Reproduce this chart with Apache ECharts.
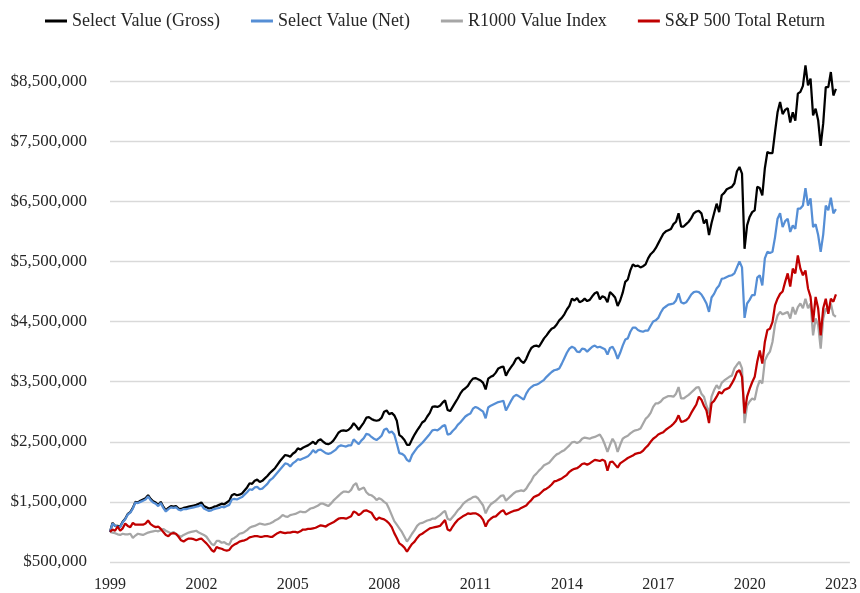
<!DOCTYPE html>
<html>
<head>
<meta charset="utf-8">
<title>Select Value growth of $1,000,000</title>
<script src="https://cdn.jsdelivr.net/npm/echarts@6/dist/echarts.min.js"></script>
<style>
html, body { margin: 0; padding: 0; background: #fff; }
#main { width: 860px; height: 593px; }
</style>
</head>
<body>
<div id="main"></div>
<script>
// monthly values, in millions of dollars, one row per year (1999 .. 2022)
var startYear = 1999;

var gross = [
    1.00, 1.15, 1.10, 1.10, 1.09, 1.17, 1.22, 1.30, 1.33, 1.40, 1.50, 1.49,
    1.52, 1.54, 1.56, 1.61, 1.55, 1.51, 1.49, 1.45, 1.50, 1.42, 1.36, 1.40,
    1.43, 1.42, 1.43, 1.39, 1.38, 1.40, 1.41, 1.42, 1.43, 1.44, 1.45, 1.47,
    1.49, 1.43, 1.41, 1.39, 1.40, 1.42, 1.43, 1.45, 1.47, 1.46, 1.49, 1.52,
    1.61, 1.63, 1.61, 1.62, 1.64, 1.69, 1.74, 1.81, 1.80, 1.85, 1.87, 1.83,
    1.85, 1.89, 1.93, 1.98, 2.02, 2.06, 2.12, 2.18, 2.23, 2.28, 2.27, 2.25,
    2.30, 2.33, 2.39, 2.37, 2.40, 2.42, 2.44, 2.47, 2.50, 2.46, 2.52, 2.54,
    2.50, 2.47, 2.46, 2.48, 2.52, 2.58, 2.65, 2.68, 2.69, 2.68, 2.70, 2.74,
    2.81, 2.76, 2.70, 2.76, 2.82, 2.90, 2.91, 2.88, 2.86, 2.85, 2.86, 2.90,
    3.00, 3.02, 2.96, 2.98, 2.94, 2.85, 2.61, 2.58, 2.53, 2.45, 2.45, 2.54,
    2.62, 2.69, 2.75, 2.82, 2.85, 2.92, 2.98, 3.08, 3.09, 3.08, 3.10, 3.15,
    3.19, 3.03, 3.01, 3.08, 3.15, 3.22, 3.30, 3.36, 3.39, 3.43, 3.50, 3.55,
    3.56, 3.54, 3.52, 3.48, 3.37, 3.55, 3.58, 3.60, 3.65, 3.72, 3.74, 3.75,
    3.60, 3.68, 3.74, 3.80, 3.88, 3.90, 3.84, 3.81, 3.88, 3.98, 4.06, 4.09,
    4.10, 4.08, 4.15, 4.22, 4.27, 4.33, 4.38, 4.40, 4.45, 4.52, 4.56, 4.62,
    4.70, 4.76, 4.88, 4.85, 4.89, 4.82, 4.84, 4.88, 4.84, 4.86, 4.92, 4.97,
    4.99, 4.87, 4.92, 4.90, 4.82, 4.99, 4.95, 4.90, 4.76, 4.85, 4.98, 5.16,
    5.20, 5.35, 5.45, 5.42, 5.43, 5.40, 5.42, 5.45, 5.55, 5.62, 5.66, 5.72,
    5.80, 5.88, 5.96, 6.00, 6.02, 6.04, 6.12, 6.16, 6.30, 6.08, 6.08, 6.12,
    6.16, 6.22, 6.30, 6.33, 6.34, 6.30, 6.13, 6.20, 5.94, 6.14, 6.30, 6.46,
    6.32, 6.60, 6.64, 6.70, 6.72, 6.74, 6.80, 7.00, 7.07, 6.96, 5.71, 6.10,
    6.24, 6.32, 6.35, 6.74, 6.72, 6.60, 7.05, 7.32, 7.30, 7.30, 7.65, 7.98,
    8.15, 7.95, 8.02, 8.05, 7.81, 7.98, 7.84, 8.29, 8.32, 8.42, 8.76, 8.43,
    8.54, 7.93, 8.04, 7.85, 7.42, 7.80, 8.40, 8.40, 8.65, 8.26, 8.37
];

var net = [
    1.00, 1.14, 1.10, 1.09, 1.08, 1.16, 1.21, 1.29, 1.32, 1.39, 1.49, 1.48,
    1.50, 1.52, 1.54, 1.59, 1.53, 1.49, 1.47, 1.43, 1.48, 1.40, 1.34, 1.38,
    1.41, 1.40, 1.41, 1.37, 1.36, 1.38, 1.38, 1.39, 1.40, 1.41, 1.42, 1.43,
    1.45, 1.39, 1.37, 1.35, 1.36, 1.38, 1.39, 1.40, 1.42, 1.41, 1.43, 1.45,
    1.54, 1.55, 1.54, 1.56, 1.58, 1.62, 1.66, 1.71, 1.70, 1.74, 1.75, 1.71,
    1.72, 1.76, 1.80, 1.86, 1.89, 1.94, 1.99, 2.04, 2.09, 2.14, 2.13, 2.09,
    2.14, 2.17, 2.21, 2.20, 2.22, 2.24, 2.26, 2.30, 2.36, 2.32, 2.36, 2.37,
    2.34, 2.31, 2.30, 2.31, 2.34, 2.37, 2.42, 2.44, 2.43, 2.42, 2.44, 2.44,
    2.54, 2.50, 2.46, 2.52, 2.56, 2.63, 2.62, 2.58, 2.55, 2.53, 2.56, 2.60,
    2.70, 2.72, 2.65, 2.67, 2.62, 2.47, 2.31, 2.30, 2.27, 2.20, 2.17, 2.28,
    2.34, 2.40, 2.44, 2.48, 2.53, 2.58, 2.63, 2.69, 2.70, 2.69, 2.72, 2.76,
    2.78, 2.62, 2.63, 2.68, 2.72, 2.78, 2.82, 2.87, 2.92, 2.95, 2.97, 3.05,
    3.08, 3.06, 3.03, 3.00, 2.89, 3.07, 3.10, 3.12, 3.14, 3.16, 3.17, 3.18,
    3.02, 3.10, 3.18, 3.25, 3.28, 3.26, 3.23, 3.20, 3.30, 3.37, 3.41, 3.44,
    3.45, 3.47, 3.50, 3.53, 3.58, 3.62, 3.66, 3.69, 3.70, 3.72, 3.80, 3.89,
    3.98, 4.05, 4.08, 4.06, 4.00, 3.99, 4.05, 4.04, 4.00, 4.04, 4.08, 4.10,
    4.07, 4.08, 4.06, 4.04, 3.95, 4.06, 4.08, 4.00, 3.88, 3.98, 4.10, 4.20,
    4.22, 4.33, 4.40, 4.40, 4.36, 4.34, 4.33, 4.35, 4.35, 4.43, 4.50, 4.52,
    4.56, 4.65, 4.72, 4.75, 4.78, 4.79, 4.80, 4.85, 4.97, 4.82, 4.80, 4.82,
    4.88, 4.95, 4.99, 5.00, 4.99, 4.95, 4.88, 4.80, 4.66, 4.90, 4.96, 5.05,
    5.10, 5.21, 5.22, 5.24, 5.26, 5.27, 5.30, 5.40, 5.50, 5.40, 4.56, 4.80,
    4.86, 4.94, 4.94, 5.23, 5.27, 5.10, 5.55, 5.66, 5.64, 5.66, 5.90, 6.21,
    6.30, 6.07, 6.17, 6.21, 5.99, 6.10, 6.04, 6.38, 6.38, 6.43, 6.72, 6.43,
    6.55, 6.07, 6.12, 5.94, 5.66, 5.95, 6.43, 6.35, 6.56, 6.30, 6.37
];

var r1000Value = [
    1.00, 0.99, 0.98, 0.96, 0.95, 0.97, 0.96, 0.96, 0.97, 0.90, 0.94, 0.97,
    0.96, 0.95, 0.97, 0.99, 1.00, 1.01, 1.02, 1.01, 1.03, 1.05, 1.02, 1.00,
    0.98, 1.00, 0.96, 0.94, 0.92, 0.95, 0.97, 0.99, 1.00, 1.01, 1.02, 0.99,
    0.97, 0.95, 0.92, 0.86, 0.80, 0.78, 0.85, 0.85, 0.82, 0.83, 0.80, 0.79,
    0.88, 0.90, 0.93, 0.97, 0.98, 1.00, 1.03, 1.07, 1.09, 1.10, 1.12, 1.14,
    1.13, 1.12, 1.13, 1.14, 1.16, 1.19, 1.21, 1.24, 1.28, 1.26, 1.25, 1.28,
    1.29, 1.30, 1.32, 1.34, 1.33, 1.33, 1.36, 1.39, 1.40, 1.42, 1.44, 1.47,
    1.47, 1.45, 1.43, 1.47, 1.52, 1.56, 1.60, 1.64, 1.67, 1.67, 1.66, 1.70,
    1.78, 1.81, 1.70, 1.72, 1.74, 1.66, 1.62, 1.61, 1.58, 1.53, 1.56, 1.54,
    1.50, 1.47, 1.38, 1.28, 1.18, 1.12, 1.06, 1.00, 0.92, 0.84, 0.90, 0.97,
    1.03, 1.10, 1.14, 1.15, 1.17, 1.19, 1.20, 1.22, 1.22, 1.25, 1.28, 1.32,
    1.35, 1.22, 1.20, 1.25, 1.30, 1.36, 1.40, 1.46, 1.50, 1.53, 1.55, 1.58,
    1.59, 1.56, 1.50, 1.44, 1.31, 1.40, 1.46, 1.49, 1.52, 1.56, 1.60, 1.61,
    1.52, 1.56, 1.60, 1.64, 1.67, 1.68, 1.69, 1.68, 1.72, 1.79, 1.85, 1.93,
    1.97, 2.02, 2.06, 2.11, 2.13, 2.15, 2.20, 2.25, 2.29, 2.31, 2.34, 2.36,
    2.40, 2.44, 2.49, 2.50, 2.48, 2.50, 2.55, 2.57, 2.56, 2.55, 2.57, 2.58,
    2.60, 2.62, 2.55, 2.45, 2.33, 2.45, 2.55, 2.48, 2.33, 2.45, 2.55, 2.58,
    2.60, 2.64, 2.67, 2.69, 2.70, 2.72, 2.80, 2.88, 2.92, 2.98, 3.08, 3.14,
    3.14, 3.17, 3.22, 3.24, 3.26, 3.26, 3.25, 3.30, 3.41, 3.22, 3.22, 3.25,
    3.28, 3.32, 3.36, 3.40, 3.41, 3.30, 3.25, 3.10, 2.97, 3.25, 3.36, 3.44,
    3.38, 3.48, 3.52, 3.55, 3.58, 3.60, 3.72, 3.78, 3.83, 3.72, 2.81, 3.10,
    3.17, 3.22, 3.20, 3.40, 3.52, 3.47, 3.85, 3.94, 4.00, 4.16, 4.45, 4.60,
    4.66, 4.62, 4.64, 4.66, 4.55, 4.74, 4.62, 4.74, 4.80, 4.72, 4.88, 4.72,
    4.80, 4.27, 4.55, 4.44, 4.05, 4.55, 4.72, 4.65, 4.80, 4.61, 4.58
];

var sp500 = [
    1.00, 1.04, 1.02, 1.09, 1.02, 1.06, 1.14, 1.10, 1.08, 1.15, 1.12, 1.12,
    1.12, 1.12, 1.14, 1.19, 1.13, 1.10, 1.08, 1.09, 1.05, 1.00, 0.95, 0.93,
    0.97, 0.98, 0.97, 0.92, 0.86, 0.84, 0.87, 0.89, 0.89, 0.88, 0.86, 0.88,
    0.89, 0.85, 0.81, 0.76, 0.70, 0.67, 0.75, 0.73, 0.72, 0.70, 0.69, 0.70,
    0.76, 0.79, 0.81, 0.84, 0.85, 0.86, 0.88, 0.91, 0.92, 0.93, 0.93, 0.92,
    0.92, 0.93, 0.93, 0.92, 0.92, 0.95, 0.98, 1.00, 0.99, 0.98, 0.99, 0.99,
    1.00, 1.00, 0.99, 1.01, 1.04, 1.04, 1.05, 1.05, 1.06, 1.07, 1.09, 1.11,
    1.10, 1.09, 1.12, 1.14, 1.16, 1.19, 1.22, 1.23, 1.23, 1.22, 1.24, 1.26,
    1.34, 1.32, 1.28, 1.31, 1.35, 1.36, 1.34, 1.32, 1.25, 1.20, 1.24, 1.22,
    1.21, 1.18, 1.14, 1.08, 0.98, 0.90, 0.81, 0.78, 0.74, 0.67, 0.74, 0.80,
    0.84, 0.90, 0.95, 0.97, 1.00, 1.03, 1.06, 1.07, 1.08, 1.09, 1.10, 1.15,
    1.20, 1.04, 1.02, 1.09, 1.15, 1.20, 1.23, 1.26, 1.28, 1.31, 1.30, 1.31,
    1.31, 1.29, 1.26, 1.20, 1.09, 1.18, 1.22, 1.25, 1.26, 1.30, 1.34, 1.36,
    1.29, 1.31, 1.33, 1.35, 1.36, 1.37, 1.40, 1.42, 1.44, 1.49, 1.53, 1.58,
    1.60, 1.62, 1.66, 1.70, 1.72, 1.75, 1.79, 1.84, 1.85, 1.87, 1.89, 1.92,
    1.95, 2.00, 2.03, 2.05, 2.06, 2.09, 2.13, 2.14, 2.12, 2.14, 2.17, 2.20,
    2.19, 2.18, 2.20, 2.18, 2.02, 2.16, 2.17, 2.12, 2.07, 2.14, 2.17, 2.20,
    2.23, 2.25, 2.27, 2.30, 2.31, 2.32, 2.35, 2.40, 2.44, 2.50, 2.55, 2.58,
    2.62, 2.64, 2.66, 2.70, 2.73, 2.76, 2.80, 2.85, 2.94, 2.83, 2.84, 2.86,
    2.90, 2.98, 3.05, 3.12, 3.25, 3.20, 3.10, 3.02, 2.81, 3.14, 3.18, 3.25,
    3.33, 3.30, 3.36, 3.38, 3.40, 3.47, 3.55, 3.66, 3.69, 3.58, 2.97, 3.25,
    3.38, 3.49, 3.58, 3.83, 4.02, 3.80, 4.16, 4.36, 4.38, 4.49, 4.77, 4.88,
    4.96, 5.00, 5.16, 5.30, 5.08, 5.38, 5.30, 5.60, 5.38, 5.27, 5.35, 5.05,
    4.91, 4.49, 4.91, 4.72, 4.27, 4.72, 4.88, 4.63, 4.88, 4.83, 4.95
];

var seriesNames = ['Select Value (Gross)', 'Select Value (Net)', 'R1000 Value Index', 'S&P 500 Total Return'];
var seriesColors = ['#000000', '#558ed5', '#a6a6a6', '#c00000'];

var chartDom = document.getElementById('main');
var myChart = echarts.init(chartDom);
var font = 'Liberation Serif';
var textColor = '#262626';

// month index since start, shared by all four lines
function toPairs(values) {
    return values.map(function (v, i) { return [i, v]; });
}

function money(v) {
    return '$' + Math.round(v * 1000000).toLocaleString('en-US');
}

var allValues = [gross, net, r1000Value, sp500];
var series = allValues.map(function (vals, k) {
    return {
        name: seriesNames[k],
        type: 'line',
        data: toPairs(vals),
        showSymbol: false,
        symbol: 'none',
        lineStyle: { color: seriesColors[k], width: 2.25 },
        itemStyle: { color: seriesColors[k] }
    };
});

var option = {
    animation: false,
    backgroundColor: '#ffffff',
    legend: {
        top: 7,
        left: 40,
        icon: 'rect',
        itemWidth: 22,
        itemHeight: 3,
        itemGap: 31,
        textStyle: { fontFamily: font, fontSize: 18, color: textColor },
        data: seriesNames
    },
    grid: { left: 110, right: 7, top: 51, bottom: 31 },
    xAxis: {
        type: 'value',
        min: 0,
        max: 291.5,
        interval: 36,
        axisLine: { show: false },
        axisTick: { show: false },
        splitLine: { show: false },
        axisLabel: {
            margin: 15,
            fontFamily: font,
            fontSize: 16,
            color: textColor,
            showMaxLabel: false,
            formatter: function (v) {
                return v % 36 === 0 ? String(startYear + v / 12) : '';
            }
        }
    },
    yAxis: {
        type: 'value',
        min: 0.5,
        max: 9,
        interval: 1,
        axisLine: { show: false },
        axisTick: { show: false },
        splitLine: {
            show: true,
            showMaxLine: false,
            lineStyle: { color: '#d9d9d9', width: 1.3 }
        },
        axisLabel: {
            margin: 23,
            fontFamily: font,
            fontSize: 17,
            color: textColor,
            showMaxLabel: false,
            formatter: money
        }
    },
    series: series
};

option && myChart.setOption(option);
</script>
</body>
</html>
